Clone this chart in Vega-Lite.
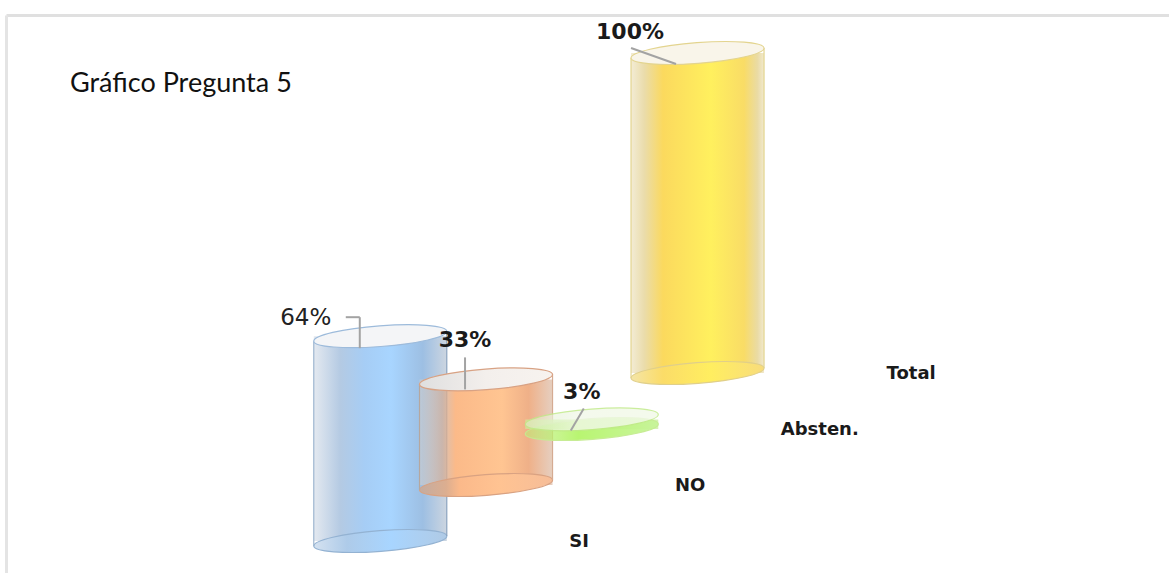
{
  "$schema": "https://vega.github.io/schema/vega-lite/v6.json",
  "autosize": {"type": "none"},
  "padding": {"left": 6, "top": 15, "right": 0, "bottom": 0},
  "width": 1163,
  "height": 558,
  "background": "white",
  "view": {"stroke": null},
  "title": {"text": "Gráfico Pregunta 5", "anchor": "start", "frame": "group", "orient": "top", "offset": -83, "dx": 64, "font": "Lato", "fontSize": 27, "fontWeight": "normal", "color": "#111111"},
  "data": {"values": [
    {"categoria": "SI", "valor": 64, "etiqueta": "64%", "orden": 1, "piso": 0, "techo": 64},
    {"categoria": "NO", "valor": 33, "etiqueta": "33%", "orden": 2, "piso": 17.5, "techo": 50.5},
    {"categoria": "Absten.", "valor": 3, "etiqueta": "3%", "orden": 3, "piso": 35, "techo": 38},
    {"categoria": "Total", "valor": 100, "etiqueta": "100%", "orden": 4, "piso": 52.5, "techo": 152.5}
  ]},
  "encoding": {
    "x": {"field": "orden", "type": "quantitative", "scale": {"domain": [-2.492, 8.411], "nice": false, "zero": false},
      "axis": {"orient": "top", "title": null, "labels": false, "ticks": false, "grid": false, "domainColor": "#e0e0e0", "domainWidth": 3}},
    "y": {"field": "techo", "type": "quantitative", "scale": {"domain": [-10, 164.375], "nice": false, "zero": false},
      "axis": {"orient": "left", "title": null, "labels": false, "ticks": false, "grid": false, "domainColor": "#e4e4e4", "domainWidth": 3}}
  },
  "layer": [
    {
      "transform": [{"filter": "datum.categoria === 'SI'"}],
      "layer": [
        {"mark": {"type": "bar", "orient": "vertical", "size": 133,
          "fill": {"gradient": "linear", "x1": 0, "x2": 1, "y1": 0, "y2": 0, "stops": [{"offset": 0, "color": "#e4e9f0"}, {"offset": 0.2, "color": "#b4cae3"}, {"offset": 0.38, "color": "#a6cdf5"}, {"offset": 0.58, "color": "#a8d5ff"}, {"offset": 0.82, "color": "#9dbfe3"}, {"offset": 1, "color": "#ccd5e0"}]}},
          "encoding": {"y2": {"field": "piso"}}},
        {"mark": {"type": "point", "shape": "M-1,0.075 A1,0.155 -4.3 1,1 1,-0.075 A1,0.155 -4.3 1,1 -1,0.075 Z", "size": 17689, "filled": true, "opacity": 1, "strokeWidth": 1.2, "stroke": "#93b2d2",
          "fill": {"gradient": "linear", "x1": 0, "x2": 1, "y1": 0, "y2": 0, "stops": [{"offset": 0, "color": "#d5e2f0"}, {"offset": 0.25, "color": "#aecbe9"}, {"offset": 0.58, "color": "#a8d5ff"}, {"offset": 1, "color": "#b0cae5"}]}},
          "encoding": {"y": {"field": "piso", "type": "quantitative"}}},
        {"mark": {"type": "rule", "stroke": "#9db5cf", "strokeWidth": 1.2, "xOffset": -66.5, "x2Offset": -66.5, "yOffset": 5, "y2Offset": 5}, "encoding": {"x2": {"field": "orden"}, "y2": {"field": "piso"}}},
        {"mark": {"type": "rule", "stroke": "#8aa3bf", "strokeWidth": 1.2, "xOffset": 66.5, "x2Offset": 66.5, "yOffset": -5, "y2Offset": -5}, "encoding": {"x2": {"field": "orden"}, "y2": {"field": "piso"}}},
        {"mark": {"type": "point", "shape": "M-1,0.075 A1,0.155 -4.3 1,1 1,-0.075 A1,0.155 -4.3 1,1 -1,0.075 Z", "size": 17689, "filled": true, "opacity": 1, "strokeWidth": 1.2, "stroke": "#9dbbdb", "fill": "#f4f5f7"}},
        {"mark": {"type": "rule", "stroke": "#a3a3a3", "strokeWidth": 2, "xOffset": -34.5, "x2Offset": -20.5, "yOffset": -19, "y2Offset": -19}, "encoding": {"x2": {"field": "orden"}, "y2": {"field": "techo"}}},
        {"mark": {"type": "rule", "stroke": "#a3a3a3", "strokeWidth": 2, "xOffset": -20.5, "x2Offset": -20.5, "yOffset": -19, "y2Offset": 12}, "encoding": {"x2": {"field": "orden"}, "y2": {"field": "techo"}}},
        {"mark": {"type": "text", "font": "DejaVu Sans", "fontSize": 23, "color": "#222222", "align": "center", "baseline": "middle", "dx": -74.5, "dy": -18}, "encoding": {"text": {"field": "etiqueta"}}}
      ]
    },
    {
      "transform": [{"filter": "datum.categoria === 'NO'"}],
      "layer": [
        {"mark": {"type": "bar", "orient": "vertical", "size": 133,
          "fill": {"gradient": "linear", "x1": 0, "x2": 1, "y1": 0, "y2": 0, "stops": [{"offset": 0, "color": "rgba(215,210,205,0.5)"}, {"offset": 0.17, "color": "rgba(205,170,150,0.7)"}, {"offset": 0.27, "color": "rgba(251,183,132,0.96)"}, {"offset": 0.62, "color": "#ffc592"}, {"offset": 0.82, "color": "#efb088"}, {"offset": 1, "color": "#e6cfc0"}]}},
          "encoding": {"y2": {"field": "piso"}}},
        {"mark": {"type": "point", "shape": "M-1,0.075 A1,0.155 -4.3 1,1 1,-0.075 A1,0.155 -4.3 1,1 -1,0.075 Z", "size": 17689, "filled": true, "opacity": 1, "strokeWidth": 1.2, "stroke": "#d9a282",
          "fill": {"gradient": "linear", "x1": 0, "x2": 1, "y1": 0, "y2": 0, "stops": [{"offset": 0, "color": "#c4aca0"}, {"offset": 0.2, "color": "#dcae90"}, {"offset": 0.3, "color": "#fbb98a"}, {"offset": 0.6, "color": "#ffc392"}, {"offset": 1, "color": "#f6bd98"}]}},
          "encoding": {"y": {"field": "piso", "type": "quantitative"}}},
        {"mark": {"type": "rule", "stroke": "#b5a79f", "strokeWidth": 1.2, "xOffset": -66.5, "x2Offset": -66.5, "yOffset": 5, "y2Offset": 5}, "encoding": {"x2": {"field": "orden"}, "y2": {"field": "piso"}}},
        {"mark": {"type": "rule", "stroke": "#d5ab92", "strokeWidth": 1.2, "xOffset": 66.5, "x2Offset": 66.5, "yOffset": -5, "y2Offset": -5}, "encoding": {"x2": {"field": "orden"}, "y2": {"field": "piso"}}},
        {"mark": {"type": "point", "shape": "M-1,0.075 A1,0.155 -4.3 1,1 1,-0.075 A1,0.155 -4.3 1,1 -1,0.075 Z", "size": 17689, "filled": true, "opacity": 1, "strokeWidth": 1.2, "stroke": "#d8a284",
          "fill": {"gradient": "linear", "x1": 0, "x2": 1, "y1": 0, "y2": 0, "stops": [{"offset": 0, "color": "#dfdfdf"}, {"offset": 0.5, "color": "#f3efec"}, {"offset": 1, "color": "#f7f3ef"}]}}},
        {"mark": {"type": "rule", "stroke": "#a3a3a3", "strokeWidth": 2, "xOffset": -21, "x2Offset": -21, "yOffset": -22, "y2Offset": 10}, "encoding": {"x2": {"field": "orden"}, "y2": {"field": "techo"}}},
        {"mark": {"type": "text", "font": "DejaVu Sans", "fontWeight": "bold", "fontSize": 22, "color": "#1a1a1a", "align": "center", "baseline": "middle", "dx": -21, "dy": -39}, "encoding": {"text": {"field": "etiqueta"}}}
      ]
    },
    {
      "transform": [{"filter": "datum.categoria === 'Absten.'"}],
      "layer": [
        {"mark": {"type": "bar", "orient": "vertical", "size": 133,
          "fill": {"gradient": "linear", "x1": 0, "x2": 1, "y1": 0, "y2": 0, "stops": [{"offset": 0, "color": "rgba(205,240,160,0.6)"}, {"offset": 0.4, "color": "#c0f585"}, {"offset": 1, "color": "#d5f2b5"}]}},
          "encoding": {"y2": {"field": "piso"}}},
        {"mark": {"type": "point", "shape": "M-1,0.075 A1,0.155 -4.3 1,1 1,-0.075 A1,0.155 -4.3 1,1 -1,0.075 Z", "size": 17689, "filled": true, "opacity": 0.95, "strokeWidth": 1.2, "stroke": "#c5ec90",
          "fill": {"gradient": "linear", "x1": 0, "x2": 1, "y1": 0, "y2": 0, "stops": [{"offset": 0, "color": "rgba(190,240,120,0.55)"}, {"offset": 0.4, "color": "#b5f56a"}, {"offset": 1, "color": "#c8f59a"}]}},
          "encoding": {"y": {"field": "piso", "type": "quantitative"}}},
        {"mark": {"type": "point", "shape": "M-1,0.075 A1,0.155 -4.3 1,1 1,-0.075 A1,0.155 -4.3 1,1 -1,0.075 Z", "size": 17689, "filled": true, "opacity": 0.82, "strokeWidth": 1.2, "stroke": "#c0ea88",
          "fill": {"gradient": "linear", "x1": 0, "x2": 1, "y1": 0, "y2": 0, "stops": [{"offset": 0, "color": "rgba(225,240,205,0.6)"}, {"offset": 0.4, "color": "#f2f8ea"}, {"offset": 1, "color": "#f2f9e8"}]}}},
        {"mark": {"type": "rule", "stroke": "#a3a3a3", "strokeWidth": 2, "xOffset": -8, "x2Offset": -21, "yOffset": -11, "y2Offset": 11}, "encoding": {"x2": {"field": "orden"}, "y2": {"field": "techo"}}},
        {"mark": {"type": "text", "font": "DejaVu Sans", "fontWeight": "bold", "fontSize": 22, "color": "#1a1a1a", "align": "center", "baseline": "middle", "dx": -10, "dy": -27}, "encoding": {"text": {"field": "etiqueta"}}}
      ]
    },
    {
      "transform": [{"filter": "datum.categoria === 'Total'"}],
      "layer": [
        {"mark": {"type": "bar", "orient": "vertical", "size": 133,
          "fill": {"gradient": "linear", "x1": 0, "x2": 1, "y1": 0, "y2": 0, "stops": [{"offset": 0, "color": "#f3ecd5"}, {"offset": 0.1, "color": "#eadcab"}, {"offset": 0.24, "color": "#fbd95e"}, {"offset": 0.6, "color": "#fff05e"}, {"offset": 0.85, "color": "#f9dc66"}, {"offset": 0.95, "color": "#eadba4"}, {"offset": 1, "color": "#f1e9ce"}]}},
          "encoding": {"y2": {"field": "piso"}}},
        {"mark": {"type": "point", "shape": "M-1,0.075 A1,0.155 -4.3 1,1 1,-0.075 A1,0.155 -4.3 1,1 -1,0.075 Z", "size": 17689, "filled": true, "opacity": 1, "strokeWidth": 1.2, "stroke": "#e0cf8a",
          "fill": {"gradient": "linear", "x1": 0, "x2": 1, "y1": 0, "y2": 0, "stops": [{"offset": 0, "color": "#f4e5a8"}, {"offset": 0.24, "color": "#fbdc68"}, {"offset": 0.6, "color": "#ffee60"}, {"offset": 1, "color": "#f8dc7c"}]}},
          "encoding": {"y": {"field": "piso", "type": "quantitative"}}},
        {"mark": {"type": "rule", "stroke": "#e3d48f", "strokeWidth": 1.2, "xOffset": -66.5, "x2Offset": -66.5, "yOffset": 5, "y2Offset": 5}, "encoding": {"x2": {"field": "orden"}, "y2": {"field": "piso"}}},
        {"mark": {"type": "rule", "stroke": "#e3d48f", "strokeWidth": 1.2, "xOffset": 66.5, "x2Offset": 66.5, "yOffset": -5, "y2Offset": -5}, "encoding": {"x2": {"field": "orden"}, "y2": {"field": "piso"}}},
        {"mark": {"type": "point", "shape": "M-1,0.075 A1,0.155 -4.3 1,1 1,-0.075 A1,0.155 -4.3 1,1 -1,0.075 Z", "size": 17689, "filled": true, "opacity": 1, "strokeWidth": 1.2, "stroke": "#e3d48f", "fill": "#f9f5ea"}},
        {"mark": {"type": "rule", "stroke": "#a3a3a3", "strokeWidth": 2, "xOffset": -66.5, "x2Offset": -21.5, "yOffset": -5, "y2Offset": 11}, "encoding": {"x2": {"field": "orden"}, "y2": {"field": "techo"}}},
        {"mark": {"type": "text", "font": "DejaVu Sans", "fontWeight": "bold", "fontSize": 22, "color": "#1a1a1a", "align": "center", "baseline": "middle", "dx": -67.5, "dy": -21}, "encoding": {"text": {"field": "etiqueta"}}}
      ]
    },
    {
      "mark": {"type": "text", "font": "DejaVu Sans", "fontWeight": "bold", "fontSize": 18, "color": "#1a1a1a", "align": "left", "baseline": "middle", "dx": 189, "dy": 1},
      "encoding": {"y": {"field": "piso", "type": "quantitative"}, "text": {"field": "categoria"}}
    }
  ]
}
